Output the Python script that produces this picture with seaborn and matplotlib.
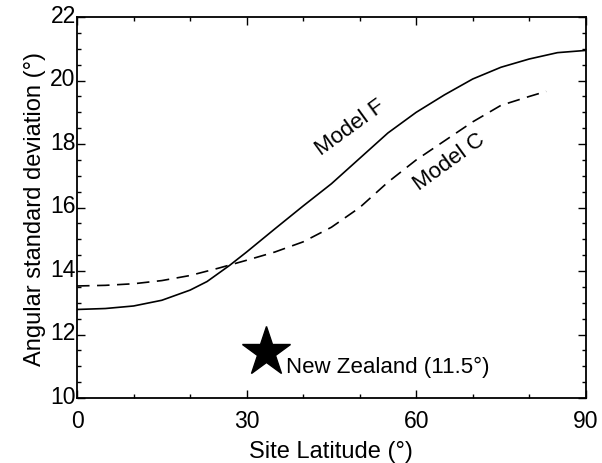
import matplotlib
matplotlib.use("Agg")
import matplotlib.pyplot as plt
import matplotlib.transforms as mtransforms
import seaborn as sns
import pandas as pd
from matplotlib.ticker import MultipleLocator

sns.set_theme(style="ticks")
plt.rcParams['font.family'] = ['Liberation Sans', 'DejaVu Sans']
plt.rcParams['text.color'] = 'black'
plt.rcParams['axes.labelcolor'] = 'black'

# Model F (solid)
lat_f = [0, 5, 10, 15, 20, 23, 27, 30, 35, 40, 45, 50, 55, 60, 65, 70, 75, 80, 85, 90]
asd_f = [12.79, 12.82, 12.9, 13.08, 13.4, 13.67, 14.18, 14.6, 15.33, 16.05, 16.75,
         17.55, 18.35, 19.0, 19.55, 20.05, 20.42, 20.68, 20.88, 20.95]

# Model C (dashed)
lat_c = [0, 5, 10, 15, 20, 25, 30, 35, 40, 45, 50, 55, 60, 65, 70, 75, 80, 83]
asd_c = [13.53, 13.55, 13.6, 13.7, 13.86, 14.09, 14.34, 14.6, 14.92, 15.38, 16.0,
         16.8, 17.5, 18.1, 18.7, 19.22, 19.5, 19.66]

nz_lat, nz_asd = 33.5, 11.45

df = pd.concat([
    pd.DataFrame({'lat': lat_f, 'asd': asd_f, 'model': 'Model F'}),
    pd.DataFrame({'lat': lat_c, 'asd': asd_c, 'model': 'Model C'}),
])

fig = plt.figure(figsize=(6.02, 4.64), dpi=100)
ax = fig.add_axes([0.128, 0.140, 0.845, 0.821])

sns.lineplot(data=df, x='lat', y='asd', style='model',
             dashes={'Model F': '', 'Model C': (7.5, 4.5)},
             color='black', linewidth=1.2, legend=False, ax=ax)

ax.plot([nz_lat], [nz_asd], marker='*', markersize=37, color='black', linestyle='none')
ax.text(37.0, 11.0, 'New Zealand (11.5°)', fontsize=16, va='center', ha='left')

ax.text(48.4, 18.54, 'Model F', fontsize=16, rotation=36, ha='center', va='center')
ax.text(65.9, 17.46, 'Model C', fontsize=16, rotation=36, ha='center', va='center')

ax.set_xlim(0, 90)
ax.set_ylim(10, 22)
ax.xaxis.set_major_locator(MultipleLocator(30))
ax.xaxis.set_minor_locator(MultipleLocator(10))
ax.yaxis.set_major_locator(MultipleLocator(2))
ax.yaxis.set_minor_locator(MultipleLocator(0.5))
ax.tick_params(which='both', direction='in', top=True, right=True, labelsize=16.5,
               width=1, color='black', labelcolor='black')
ax.tick_params(which='major', length=5.5)
ax.tick_params(axis='y', which='major', pad=1)
ax.tick_params(axis='x', which='major', pad=8)
ax.tick_params(which='minor', length=3)
for s in ax.spines.values():
    s.set_linewidth(1.3)
    s.set_color('black')

# y tick labels sit a little above their ticks in the original
shift = mtransforms.ScaledTranslation(0, 3 / 72, fig.dpi_scale_trans)
for lab in ax.get_yticklabels():
    lab.set_transform(lab.get_transform() + shift)

ax.set_xlabel('Site Latitude (°)', fontsize=17, labelpad=6)
ax.set_ylabel('Angular standard deviation (°)', fontsize=17, labelpad=3)

fig.savefig('out.png', dpi=100)
